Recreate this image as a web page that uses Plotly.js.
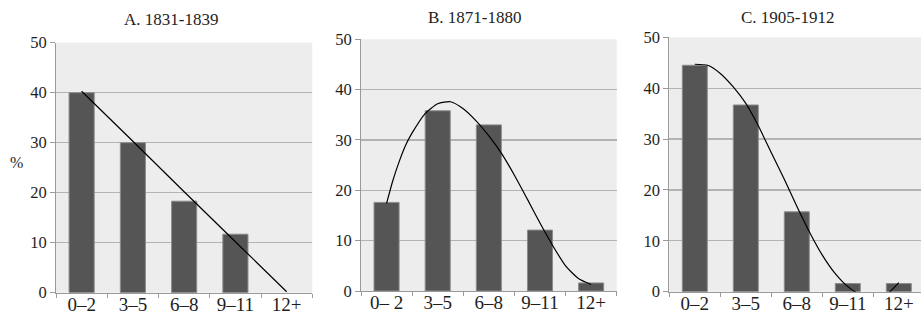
<!DOCTYPE html>
<html>
<head>
<meta charset="utf-8">
<script src="https://cdn.plot.ly/plotly-3.0.1.min.js"></script>
<style>html,body{margin:0;padding:0;background:#fff;}#chart{width:921px;height:314px;}</style>
</head>
<body>
<div id="chart"></div>
<script>
// ---- data ----
const categoriesA = ["0–2", "3–5", "6–8", "9–11", "12+"];
const categoriesB = ["0– 2", "3–5", "6–8", "9–11", "12+"];
const categoriesC = ["0–2", "3–5", "6–8", "9–11", "12+"];
const positions = [0, 1, 2, 3, 4];

const titles = ["A. 1831-1839", "B. 1871-1880", "C. 1905-1912"];

const sharesA = [40.0, 30.0, 18.3, 11.7, 0];
const sharesB = [17.6, 35.8, 33.0, 12.1, 1.6];
const sharesC = [44.5, 36.7, 15.7, 1.6, 1.6];

// trend lines at category positions
const trendAx = [0, 1, 2, 3, 4];
const trendAy = [40.3, 30.3, 20.2, 10.2, 0.2];
const trendBx = [0, 0.125, 0.25, 0.375, 0.5, 0.75, 1, 1.25, 1.5, 1.75, 2, 2.25, 2.5, 2.75, 3, 3.25, 3.5, 3.75, 4];
const trendBy = [17.4, 22.0, 25.8, 29.0, 31.4, 35.2, 37.2, 37.6, 36.2, 33.8, 30.8, 27.3, 23.0, 18.3, 13.5, 9.0, 5.0, 2.5, 1.3];
const trendCx = [0, 0.25, 0.5, 0.75, 1, 1.25, 1.5, 1.75, 2, 2.25, 2.5, 2.75, 3, 3.25, 3.5, 3.75, 4];
const trendCy = [44.7, 44.5, 42.9, 40.3, 37.0, 32.5, 27.3, 22.2, 16.8, 11.7, 7.2, 3.6, 1.0, -0.6, -1.2, -0.6, 1.8];

// ---- styling ----
const serif = "Liberation Serif";
const lineStyle = {color: "#000000", width: 1.2, shape: "spline", smoothing: 0.6};

function bar(y, xa, ya) {
  return {type: "bar", x: positions, y: y, width: 0.49,
          marker: {color: "#555555", line: {color: "#8c8c8c", width: y.map(v => v > 0 ? 1 : 0)}},
          xaxis: xa, yaxis: ya, hoverinfo: "skip", showlegend: false};
}
function trend(x, y, xa, ya) {
  return {type: "scatter", mode: "lines", x: x, y: y, line: lineStyle,
          xaxis: xa, yaxis: ya, hoverinfo: "skip", showlegend: false};
}

const traces = [
  bar(sharesA, "x", "y"), trend(trendAx, trendAy, "x", "y"),
  bar(sharesB, "x2", "y2"), trend(trendBx, trendBy, "x2", "y2"),
  bar(sharesC, "x3", "y3"), trend(trendCx, trendCy, "x3", "y3")
];

function xaxis(domain, labels, anchor, rangeMax) {
  return {
    domain: domain, anchor: anchor, range: [-0.5, rangeMax],
    tickmode: "array", tickvals: positions, ticktext: labels, ticks: "",
    ticklabelstandoff: -6,
    showgrid: false, zeroline: false, fixedrange: true,
    showline: true, linecolor: "#9a9a9a", linewidth: 1,
    tickfont: {family: serif, size: 19, color: "#1e1e1e"},
    minor: {tickmode: "array", tickvals: [-0.5, 0.5, 1.5, 2.5, 3.5, 4.5],
            ticks: "outside", ticklen: 4, tickcolor: "#9a9a9a", tickwidth: 1, showgrid: false}
  };
}
function yaxis(domain, anchor) {
  return {
    domain: domain, anchor: anchor, range: [0, 50], dtick: 10, tick0: 0,
    ticks: "outside", ticklen: 5, tickcolor: "#9a9a9a", tickwidth: 1,
    showgrid: true, gridcolor: "#b3b3b3", gridwidth: 1.3,
    zeroline: false, fixedrange: true,
    showline: true, linecolor: "#9a9a9a", linewidth: 1,
    tickfont: {family: serif, size: 16.5, color: "#1e1e1e"}
  };
}

function ann(text, px, py, size) {
  return {text: text, x: px / 921, y: (314 - py) / 314, xref: "paper", yref: "paper",
          xanchor: "center", yanchor: "middle", showarrow: false,
          font: {family: serif, size: size, color: "#1e1e1e"}};
}

const layout = {
  width: 921, height: 314,
  margin: {l: 0, r: 0, t: 0, b: 0},
  paper_bgcolor: "#ffffff", plot_bgcolor: "#ededed",
  bargap: 0.5,
  font: {family: serif},
  xaxis: xaxis([56 / 921, 312.3 / 921], categoriesA, "y", 4.5),
  yaxis: yaxis([21.3 / 314, 271.3 / 314], "x"),
  xaxis2: xaxis([361 / 921, 616.7 / 921], categoriesB, "y2", 4.5),
  yaxis2: yaxis([23 / 314, 274.7 / 314], "x2"),
  xaxis3: xaxis([669.3 / 921, 1], categoriesC, "y3", 4.435),
  yaxis3: yaxis([22.3 / 314, 276.7 / 314], "x3"),
  annotations: [
    ann(titles[0], 171, 20, 17),
    ann(titles[1], 475, 18, 17),
    ann(titles[2], 788, 18, 17),
    ann("%", 16, 162, 16)
  ]
};

Plotly.newPlot("chart", traces, layout, {displayModeBar: false, staticPlot: true});
</script>
</body>
</html>
